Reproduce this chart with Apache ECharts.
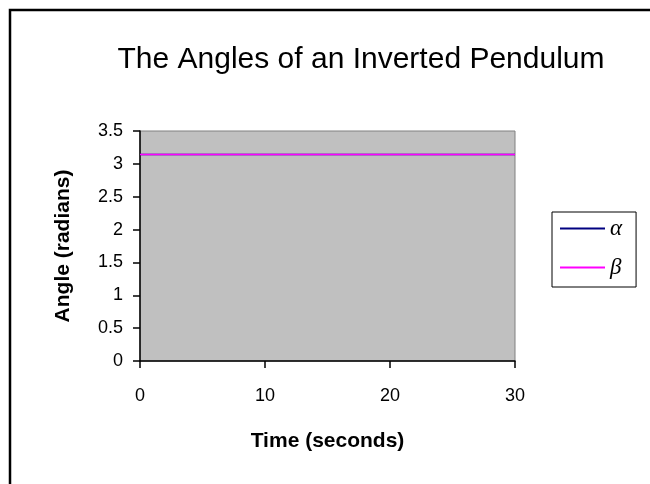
<!DOCTYPE html>
<html>
<head>
<meta charset="utf-8">
<script src="https://cdn.jsdelivr.net/npm/echarts@6/dist/echarts.min.js"></script>
<style>
  html, body { margin: 0; padding: 0; background: #fff; }
  #chart { width: 650px; height: 484px; }
</style>
</head>
<body>
<div id="chart"></div>
<script>
// 数据
const times = [0, 5, 10, 15, 20, 25, 30];
const alphaValues = [3.1416, 3.1416, 3.1416, 3.1416, 3.1416, 3.1416, 3.1416];
const betaValues = [3.1416, 3.1416, 3.1416, 3.1416, 3.1416, 3.1416, 3.1416];
const seriesNames = ['α', 'β'];
const seriesColors = ['#000080', '#FF00FF'];

const chart = echarts.init(document.getElementById('chart'));

const toPairs = (vals) => times.map((t, i) => [t, vals[i]]);

const axisFont = {
  color: '#000',
  fontSize: 18,
  fontFamily: 'Liberation Sans, Arial, sans-serif',
};

const nameFont = {
  color: '#000',
  fontSize: 21,
  fontWeight: 'bold',
  fontFamily: 'Liberation Sans, Arial, sans-serif',
};

const option = {
  backgroundColor: '#fff',
  animation: false,
  title: {
    text: 'The Angles of an Inverted Pendulum',
    left: 356,
    top: 40,
    textAlign: 'center',
    textStyle: {
      color: '#000',
      fontSize: 30,
      fontWeight: 'normal',
      fontFamily: 'Liberation Sans, Arial, sans-serif',
    },
  },
  graphic: [
    {
      // 外框
      type: 'rect',
      shape: { x: 10, y: 10, width: 700, height: 600 },
      style: { fill: null, stroke: '#000', lineWidth: 2.5 },
      silent: true,
    },
  ],
  legend: {
    orient: 'vertical',
    left: 552,
    top: 212,
    padding: [5, 14, 8, 8],
    borderColor: '#000',
    borderWidth: 1,
    icon: 'rect',
    itemWidth: 45,
    itemHeight: 2,
    itemGap: 16,
    selectedMode: false,
    textStyle: {
      color: '#000',
      fontSize: 23,
      fontStyle: 'italic',
      fontFamily: 'Liberation Serif, DejaVu Serif, serif',
    },
    data: seriesNames,
  },
  grid: {
    left: 140,
    top: 131,
    right: 135,
    bottom: 123,
    show: true,
    backgroundColor: '#C0C0C0',
    borderColor: '#808080',
    borderWidth: 1,
  },
  xAxis: {
    type: 'value',
    min: 0,
    max: 30,
    interval: 10,
    name: 'Time (seconds)',
    nameLocation: 'middle',
    nameGap: 70,
    nameTextStyle: nameFont,
    axisLine: { show: true, lineStyle: { color: '#000', width: 1.5 } },
    axisTick: { show: true, inside: false, length: 7, lineStyle: { color: '#000', width: 1.5 } },
    axisLabel: { ...axisFont, margin: 26 },
    splitLine: { show: false },
  },
  yAxis: {
    type: 'value',
    min: 0,
    max: 3.5,
    interval: 0.5,
    name: 'Angle (radians)',
    nameLocation: 'middle',
    nameGap: 66,
    nameRotate: 90,
    nameTextStyle: nameFont,
    axisLine: { show: true, lineStyle: { color: '#000', width: 1.5 } },
    axisTick: { show: true, inside: false, length: 7, lineStyle: { color: '#000', width: 1.5 } },
    axisLabel: { ...axisFont, margin: 17 },
    splitLine: { show: false },
  },
  series: [
    {
      name: seriesNames[0],
      type: 'line',
      data: toPairs(alphaValues),
      showSymbol: false,
      lineStyle: { color: seriesColors[0], width: 1.5 },
      itemStyle: { color: seriesColors[0] },
    },
    {
      name: seriesNames[1],
      type: 'line',
      data: toPairs(betaValues),
      showSymbol: false,
      lineStyle: { color: seriesColors[1], width: 1.5 },
      itemStyle: { color: seriesColors[1] },
    },
  ],
};

chart.setOption(option);
</script>
</body>
</html>
